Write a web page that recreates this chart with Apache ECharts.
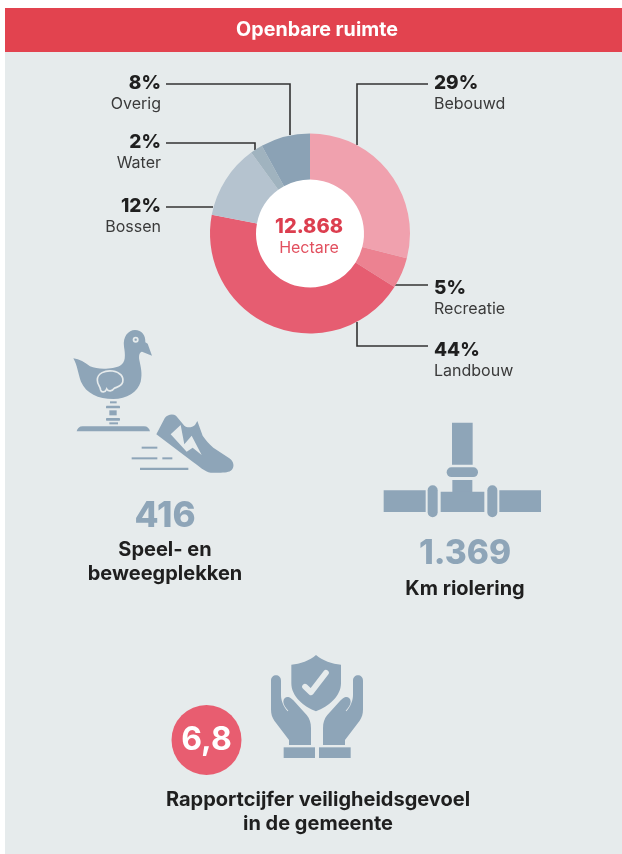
<!DOCTYPE html>
<html>
	<head>
		<meta charset="utf-8">
		<title>Openbare ruimte</title>
		<style>
			html, body { margin: 0; padding: 0; background: #fff; }
		</style>
	</head>
	<body>
		<div id="container" style="width: 622px;height:854px;"></div>
	</body>
	<script src="https://cdn.jsdelivr.net/npm/echarts@6/dist/echarts.min.js"></script>
	<script type="text/javascript">
		'use strict'
		// data
		var categories = ['Bebouwd', 'Recreatie', 'Landbouw', 'Bossen', 'Water', 'Overig'];
		var shares = [29, 5, 44, 12, 2, 8];
		var totalValue = '12.868';
		var totalUnit = 'Hectare';
		var playValue = '416';
		var playLabel = ['Speel- en', 'beweegplekken'];
		var sewerValue = '1.369';
		var sewerLabel = 'Km riolering';
		var safetyValue = '6,8';
		var safetyLabel = ['Rapportcijfer veiligheidsgevoel', 'in de gemeente'];

		var sliceColors = ['#f0a1ae', '#ec8291', '#e65d71', '#b5c3cf', '#a0b3bf', '#8ba2b5'];
		var iconColor = '#8ea5b8';
		var panelColor = '#e6ebec';
		var inkColor = '#1f1f1f';
		var font = 'Inter';

		function text(x, y, str, size, weight, color, align) {
			return {
				type: 'text',
				style: {
					x: x, y: y, text: str, fontFamily: font, fontSize: size, fontWeight: weight,
					fill: color, align: align || 'center', verticalAlign: 'middle'
				}
			};
		}
		function line(points) {
			return {
				type: 'polyline',
				shape: { points: points },
				style: { stroke: '#333', lineWidth: 1.6, fill: null }
			};
		}
		function rect(x, y, w, h, r) {
			return {
				type: 'rect',
				shape: { x: x, y: y, width: w, height: h, r: r || 0 },
				style: { fill: iconColor }
			};
		}
		// icons are drawn in 3x coordinates, so scale the group back
		function icon(x, y, children) {
			return { type: 'group', x: x, y: y, scaleX: 1 / 3, scaleY: 1 / 3, children: children };
		}
		// the graphic component has no plain 'path' type, so register each svg path as a shape
		var shapeCount = 0;
		function path(d, fill, stroke) {
			var name = 'iconPath' + (shapeCount++);
			echarts.graphic.registerShape(name, echarts.graphic.extendPath(d, {}));
			return {
				type: name,
				style: { fill: fill || iconColor, stroke: stroke || null, lineWidth: stroke ? 5 : 0 }
			};
		}

		// callouts: leader line + percentage + name
		var callouts = [
			{ side: 'r', y: 83, pts: [[428, 84], [357, 84], [357, 145]] },
			{ side: 'r', y: 288, pts: [[428, 285], [395, 285]] },
			{ side: 'r', y: 350, pts: [[428, 346], [357, 346], [357, 322]] },
			{ side: 'l', y: 206, pts: [[166, 207], [213, 207]] },
			{ side: 'l', y: 142, pts: [[166, 143], [255, 143], [255, 150]] },
			{ side: 'l', y: 83, pts: [[166, 84], [290, 84], [290, 135]] }
		];
		var calloutItems = [];
		callouts.forEach(function (c, i) {
			var x = c.side === 'r' ? 434 : 161;
			var align = c.side === 'r' ? 'left' : 'right';
			calloutItems.push(line(c.pts));
			calloutItems.push(text(x, c.y, shares[i] + '%', 19, 800, inkColor, align));
			calloutItems.push(text(x, c.y + 21.5, categories[i], 16, 400, '#3a3a3a', align));
		});

		var duck = icon(70, 325, [
			path('M10 100 C28 102 45 112 60 124 C85 135 130 132 150 122 C168 112 166 90 162 65 C158 35 175 15 195 15 C215 15 227 30 226 52 L233 56 L246 92 L216 80 C208 82 206 92 208 105 C212 125 218 145 212 170 C204 200 170 222 130 222 C85 222 48 205 33 170 C25 150 22 120 10 100 Z'),
			{ type: 'circle', shape: { cx: 197, cy: 44, r: 9 }, style: { fill: panelColor } },
			{ type: 'circle', shape: { cx: 197, cy: 44, r: 3.5 }, style: { fill: iconColor } },
			path('M82 165 C82 145 105 135 128 138 C150 141 162 155 158 172 C154 185 140 186 133 190 C126 200 115 200 110 192 C106 203 94 203 92 195 C90 182 82 180 82 165 Z', iconColor, panelColor),
			rect(120, 229, 20, 6), rect(108, 242, 42, 8, 2), rect(118, 256, 22, 15),
			rect(108, 279, 42, 8, 2), rect(118, 292, 26, 6),
			path('M20 319 C22 310 28 304 38 304 L222 304 C232 304 238 310 240 319 Z')
		]);
		var shoe = icon(150, 405, [
			path('M19 88 L44 40 C52 28 68 26 78 32 L103 62 C112 70 126 68 135 60 L142 48 L158 92 C168 106 176 116 190 128 L238 160 C252 170 254 186 245 195 C238 202 226 203 205 203 L182 203 C164 200 148 184 128 170 Z'),
			path('M62 88 L92 60 L103 118 L125 92 L155 150 L128 128 L110 140 Z', panelColor)
		]);
		var speedLines = icon(60, 320, [
			rect(245, 380, 47, 6), rect(215, 412, 77, 6), rect(307, 412, 30, 6), rect(240, 443, 145, 7)
		]);
		var pipe = icon(370, 410, [
			rect(246, 38, 62, 126), rect(230, 172, 94, 29, 14), rect(247, 210, 60, 40),
			rect(212, 245, 131, 61), rect(41, 241, 126, 65), rect(388, 241, 125, 65),
			rect(173, 226, 30, 96, 15), rect(352, 226, 30, 96, 15)
		]);
		var handPath = 'M18 92 C18 82 25 76 33 76 C41 76 48 82 48 92 L48 135 C48 150 55 170 68 184 L70 182 C62 172 55 165 55 155 C55 146 62 140 70 141 C76 142 80 146 85 151 L125 195 C134 206 138 218 138 235 L138 285 L72 285 L72 270 L28 212 C21 202 18 192 18 178 Z';
		var hands = icon(265, 650, [
			path('M153 15 C135 32 105 42 79 44 L79 100 C79 138 115 170 153 184 C191 170 228 138 228 100 L228 44 C202 42 172 32 153 15 Z'),
			{
				type: 'polyline',
				shape: { points: [[120, 110], [138, 127], [183, 68]] },
				style: { stroke: panelColor, lineWidth: 17, fill: null, lineCap: 'round', lineJoin: 'round' }
			},
			path(handPath),
			{ type: 'group', x: 312, scaleX: -1, children: [path(handPath)] },
			rect(56, 292, 94, 32), rect(162, 292, 95, 32)
		]);

		var myCharts = echarts.init(document.getElementById('container'));
		var option = {
			animation: false,
			backgroundColor: '#fff',
			graphic: {
				elements: [
					{ type: 'rect', shape: { x: 5, y: 52, width: 617, height: 802 }, style: { fill: panelColor } },
					{ type: 'rect', shape: { x: 5, y: 8, width: 617, height: 44 }, style: { fill: '#e2434f' } },
					text(317, 30, 'Openbare ruimte', 19.7, 700, '#fff'),
					{ type: 'circle', shape: { cx: 310, cy: 233.5, r: 55 }, style: { fill: '#fff' } },
					text(309, 227, totalValue, 20, 800, '#dc3e4f'),
					text(309, 248, totalUnit, 16, 400, '#e2505f')
				].concat(calloutItems).concat([
					duck, shoe, speedLines, pipe, hands,
					text(165, 516.5, playValue, 35, 800, iconColor),
					text(165, 550, playLabel[0], 20, 700, inkColor),
					text(165, 574, playLabel[1], 20, 700, inkColor),
					text(465, 554, sewerValue, 33.5, 800, iconColor),
					text(465, 588.5, sewerLabel, 20, 700, inkColor),
					{ type: 'circle', shape: { cx: 206.5, cy: 740, r: 35 }, style: { fill: '#e85d70' } },
					text(206.5, 740, safetyValue, 32, 700, '#fff'),
					text(318, 800, safetyLabel[0], 20, 700, inkColor),
					text(318, 824, safetyLabel[1], 20, 700, inkColor)
				])
			},
			series: [{
				type: 'pie',
				center: [310, 233.5],
				radius: [54, 100],
				startAngle: 90,
				clockwise: true,
				silent: true,
				label: { show: false },
				labelLine: { show: false },
				itemStyle: { borderWidth: 0 },
				data: categories.map(function (name, i) {
					return { name: name, value: shares[i], itemStyle: { color: sliceColors[i] } };
				})
			}]
		};
		myCharts.setOption(option);
	</script>
</html>
